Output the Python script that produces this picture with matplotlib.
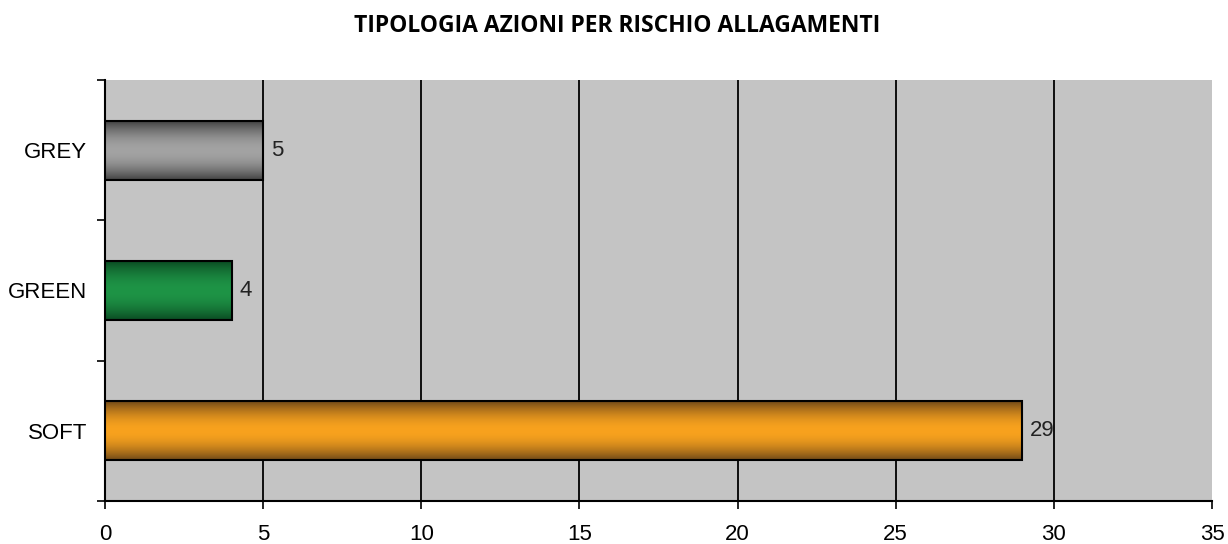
import numpy as np
import matplotlib
matplotlib.use("Agg")
import matplotlib.pyplot as plt
from matplotlib.colors import to_rgb

categories = ["SOFT", "GREEN", "GREY"]
values = [29, 4, 5]
light_colors = ["#F8A21E", "#1E9446", "#A3A3A3"]
dark_colors = ["#6E4718", "#0A4A22", "#404040"]
xticks = [0, 5, 10, 15, 20, 25, 30, 35]
title = "TIPOLOGIA AZIONI PER RISCHIO ALLAGAMENTI"

fig = plt.figure(figsize=(12.28, 5.44), dpi=100)
ax = fig.add_axes([105/1228, 1-501/544, (1212-105)/1228, (501-80)/544])
ax.set_facecolor("#C4C4C4")

bar_h = 0.42
ys = np.arange(len(categories))
t = np.linspace(0, 1, 200)
prof = np.sin(np.pi * t) ** 0.9
for y, v, lc, dc in zip(ys, values, light_colors, dark_colors):
    l = np.array(to_rgb(lc)); d = np.array(to_rgb(dc))
    img = d[None, :] + (l - d)[None, :] * prof[:, None]
    img = img[:, None, :]
    ax.imshow(img, extent=(0, v, y - bar_h/2, y + bar_h/2), aspect="auto",
              interpolation="bilinear", zorder=3, origin="lower")
    ax.barh(y, v, height=bar_h, facecolor="none", edgecolor="black", linewidth=1.5, zorder=4)
    ax.text(v + 0.25, y, str(v), va="center", ha="left", fontsize=16,
            family="Liberation Sans", color="#222222", zorder=5)

ax.set_xlim(0, 35)
ax.set_ylim(-0.5, 2.5)
for x in xticks[1:-1]:
    ax.axvline(x, color="black", linewidth=1.3, zorder=2)

ax.set_xticks(xticks)
ax.set_xticklabels([str(x) for x in xticks], family="Liberation Sans", fontsize=16)
ax.set_yticks(ys)
ax.set_yticklabels(categories, family="Liberation Sans", fontsize=16)
ax.set_yticks([-0.5, 0.5, 1.5, 2.5], minor=True)
ax.tick_params(axis="y", which="major", length=0, pad=13)
ax.tick_params(axis="y", which="minor", length=6, width=1.2)
ax.tick_params(axis="x", length=6, width=1.2, pad=10.5)
for s in ["top", "right"]:
    ax.spines[s].set_visible(False)
ax.spines["left"].set_linewidth(1.5)
ax.spines["bottom"].set_linewidth(1.5)

fig.text(617/1228, 1-26/544, title, ha="center", va="center", fontsize=16.5,
         family="Open Sans", weight="bold")

fig.savefig("out.png", dpi=100)
